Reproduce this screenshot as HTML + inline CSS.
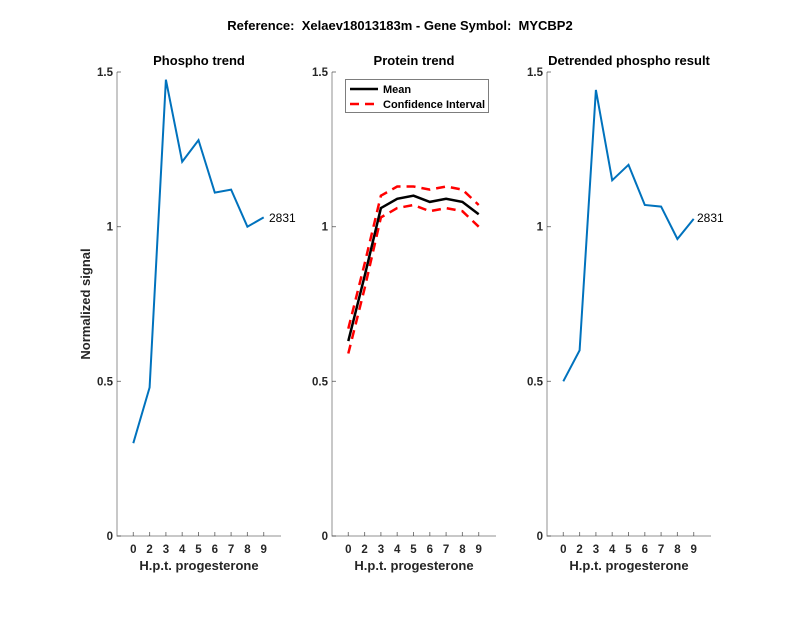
<!DOCTYPE html>
<html><head><meta charset="utf-8"><style>
body{margin:0;background:#fff;width:800px;height:618px;overflow:hidden}
svg{font-family:"Liberation Sans",sans-serif}
</style></head><body>
<svg id="s" width="800" height="618" xmlns="http://www.w3.org/2000/svg">
<text x="400" y="30" text-anchor="middle" font-size="13" font-weight="bold" fill="#000">Reference:&#160; Xelaev18013183m - Gene Symbol:&#160; MYCBP2</text>
<text transform="translate(90,304) rotate(-90)" text-anchor="middle" font-size="13" font-weight="bold" fill="#262626">Normalized signal</text>
</svg>
<script>
var s=document.getElementById('s'),h='';
var Y=function(v){return 536-v*309.33;};
var axes=[[117,'Phospho trend'],[332,'Protein trend'],[547,'Detrended phospho result']];
var labs=['0','2','3','4','5','6','7','8','9'];
axes.forEach(function(a){
 var x0=a[0];
 h+='<path d="M'+x0+' 72V536H'+(x0+164)+'" stroke="#262626" stroke-opacity="0.5" fill="none"/>';
 h+='<text x="'+(x0+82)+'" y="65" text-anchor="middle" font-size="13" font-weight="bold">'+a[1]+'</text>';
 [0,0.5,1,1.5].forEach(function(v){var y=Y(v);
  h+='<path d="M'+x0+' '+y+'h4" stroke="#262626" stroke-opacity="0.6"/>';
  h+='<text x="'+(x0-4)+'" y="'+(y+4)+'" text-anchor="end" font-size="11.5" font-weight="bold" fill="#262626">'+(v==0?'0':v==1?'1':v)+'</text>';});
 for(var i=0;i<9;i++){var x=x0+16.3*(i+1);
  h+='<path d="M'+x+' 536v-4" stroke="#262626" stroke-opacity="0.6"/>';
  h+='<text x="'+x+'" y="553" text-anchor="middle" font-size="11.5" font-weight="bold" fill="#262626">'+labs[i]+'</text>';}
 h+='<text x="'+(x0+82)+'" y="570" text-anchor="middle" font-size="13" font-weight="bold" fill="#262626">H.p.t. progesterone</text>';
});
function line(x0,d,st){var p='';d.forEach(function(v,i){p+=(i?'L':'M')+(x0+16.3*(i+1)).toFixed(1)+' '+Y(v).toFixed(1);});h+='<path d="'+p+'" fill="none" '+st+'/>';}
line(117,[0.30,0.48,1.475,1.21,1.28,1.11,1.12,1.00,1.03],'stroke="#0072BD" stroke-width="2"');
h+='<text x="269" y="222" font-size="12">2831</text>';
line(332,[0.67,0.88,1.10,1.13,1.13,1.12,1.13,1.12,1.07],'stroke="#f00" stroke-width="2.5" stroke-dasharray="9,6"');
line(332,[0.59,0.80,1.03,1.06,1.07,1.05,1.06,1.05,1.00],'stroke="#f00" stroke-width="2.5" stroke-dasharray="9,6"');
line(332,[0.63,0.84,1.06,1.09,1.10,1.08,1.09,1.08,1.04],'stroke="#000" stroke-width="2.5"');
line(547,[0.50,0.60,1.442,1.15,1.20,1.07,1.065,0.96,1.025],'stroke="#0072BD" stroke-width="2"');
h+='<text x="697" y="222" font-size="12">2831</text>';
h+='<rect x="345.5" y="79.5" width="143" height="33" fill="#fff" stroke="#262626" stroke-opacity="0.6"/>';
h+='<path d="M350 89h28" stroke="#000" stroke-width="2.5"/><path d="M350 104h28" stroke="#f00" stroke-width="2.5" stroke-dasharray="9,6"/>';
h+='<text x="383" y="93" font-size="11" font-weight="bold">Mean</text><text x="383" y="108" font-size="11" font-weight="bold">Confidence Interval</text>';
s.insertAdjacentHTML('beforeend',h);
</script>
</body></html>
